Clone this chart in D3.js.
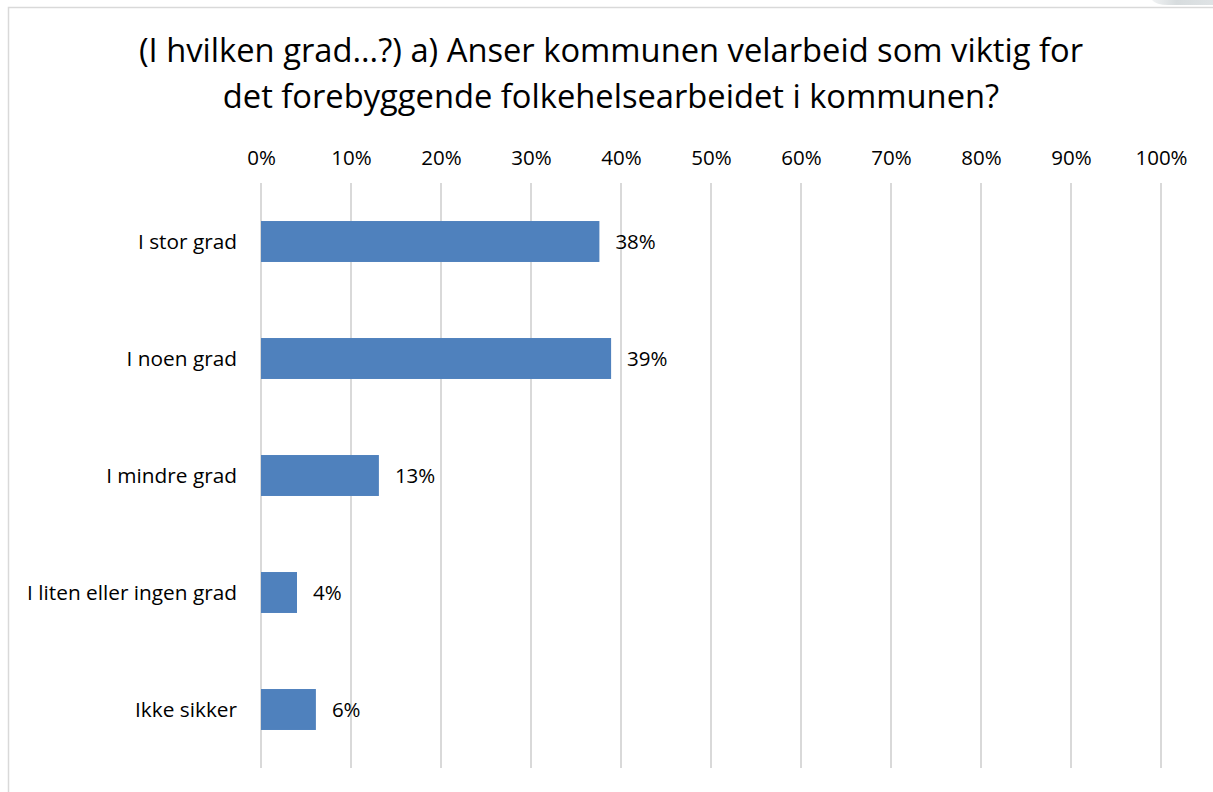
<!DOCTYPE html>
<html>
<head>
<meta charset="utf-8">
<script src="https://cdn.jsdelivr.net/npm/d3@7"></script>
<style>
  body { margin: 0; background: #fff; }
  svg text { font-family: "Open Sans", Lato, sans-serif; fill: #000; }
</style>
</head>
<body>
<div id="viz"></div>
<script>
var categories = ["I stor grad", "I noen grad", "I mindre grad", "I liten eller ingen grad", "Ikke sikker"];
var values = [0.376, 0.389, 0.131, 0.040, 0.061];
var valueLabels = ["38%", "39%", "13%", "4%", "6%"];
var ticks = [0, 0.1, 0.2, 0.3, 0.4, 0.5, 0.6, 0.7, 0.8, 0.9, 1.0];
var titleLines = ["(I hvilken grad...?) a) Anser kommunen velarbeid som viktig for",
                  "det forebyggende folkehelsearbeidet i kommunen?"];

var w = 1213, h = 792;

var svg = d3.select('#viz')
            .append('svg')
            .attr('width', w)
            .attr('height', h);

// outer chart frame (only top and left edges visible)
svg.append('path')
   .attr('d', 'M8.5,792 V7.5 H1213')
   .attr('fill', 'none')
   .attr('stroke', '#d9d9d9')
   .attr('stroke-width', 1.5);

// grey tab at top right
var grad = svg.append('defs').append('linearGradient')
              .attr('id', 'tab').attr('x1', 0).attr('x2', 1);
grad.append('stop').attr('offset', 0).attr('stop-color', '#f0f2f3');
grad.append('stop').attr('offset', 0.4).attr('stop-color', '#d7dcde');
grad.append('stop').attr('offset', 1).attr('stop-color', '#dfe3e5');
svg.append('path')
   .attr('d', 'M1152,0 H1213 V5 H1168 Q1156,5 1152,0 Z')
   .attr('fill', 'url(#tab)');

var x = d3.scaleLinear()
          .domain([0, 1])
          .range([261, 1161]);

var y = d3.scaleBand()
          .domain(categories)
          .range([183, 768])
          .paddingInner(0.65)
          .paddingOuter(0.325);

svg.selectAll('.title')
   .data(titleLines)
   .enter()
   .append('text')
   .attr('class', 'title')
   .attr('x', 611)
   .attr('y', (d, i) => 62 + i * 46)
   .attr('text-anchor', 'middle')
   .style('font-size', '32.7px')
   .text(d => d);

// gridlines
svg.selectAll('.grid')
   .data(ticks)
   .enter()
   .append('line')
   .attr('x1', d => x(d))
   .attr('x2', d => x(d))
   .attr('y1', 183)
   .attr('y2', 768)
   .attr('stroke', '#d9d9d9')
   .attr('stroke-width', 2);

// top axis labels
var axis = svg.append('g')
   .attr('transform', 'translate(0,148)')
   .call(d3.axisTop(x).tickValues(ticks).tickFormat(d3.format('.0%')).tickSize(0).tickPadding(0));
axis.select('.domain').remove();
axis.selectAll('text')
    .attr('dy', '0.85em')
    .style('font-size', '20.5px')
    .style('font-family', '"Open Sans", Lato, sans-serif');

// bars
svg.selectAll('.bar')
   .data(values)
   .enter()
   .append('rect')
   .attr('x', x(0))
   .attr('y', (d, i) => y(categories[i]))
   .attr('width', d => x(d) - x(0))
   .attr('height', y.bandwidth())
   .attr('fill', '#4f81bd');

// category labels
svg.selectAll('.cat')
   .data(categories)
   .enter()
   .append('text')
   .attr('x', 237)
   .attr('y', d => y(d) + y.bandwidth() / 2)
   .attr('dy', '0.35em')
   .attr('text-anchor', 'end')
   .style('font-size', '20.8px')
   .text(d => d);

// value labels
svg.selectAll('.val')
   .data(values)
   .enter()
   .append('text')
   .attr('x', d => x(d) + 16)
   .attr('y', (d, i) => y(categories[i]) + y.bandwidth() / 2)
   .attr('dy', '0.35em')
   .style('font-size', '20.5px')
   .text((d, i) => valueLabels[i]);
</script>
</body>
</html>
